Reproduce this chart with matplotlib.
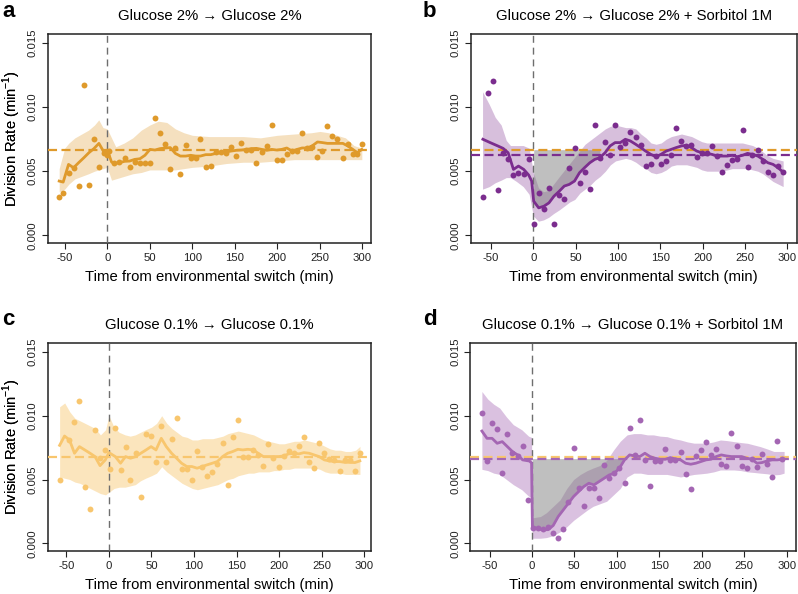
import numpy as np
import matplotlib
matplotlib.use("Agg")
import matplotlib.pyplot as plt

plt.rcParams['font.family'] = ['Liberation Sans', 'DejaVu Sans']
plt.rcParams['lines.scale_dashes'] = False
plt.rcParams['axes.unicode_minus'] = False

# ---- panel a: Glucose 2% -> Glucose 2%  (values x 1e-3) ----
a_pt_t = [-56.5, -51.8, -45.5, -39.6, -33.7, -27.5, -21.6, -15.7, -9.8, -3.5, -0.8, 1.6, 8.2, 14.1, 20.4,
          26.3, 32.2, 38.4, 44.3, 50.2, 56.1, 62.0, 68.2, 74.1, 80.0, 85.9, 92.2, 98.0, 103.9, 109.4,
          115.7, 121.6, 127.8, 133.7, 140.0, 145.5, 151.8, 157.6, 163.5, 169.4, 175.3, 181.6, 187.5,
          193.3, 199.2, 205.1, 211.0, 217.3, 223.1, 229.0, 234.9, 240.8, 247.1, 252.9, 258.8, 264.7,
          270.6, 276.9, 282.7, 288.6, 294.1, 299.2]
a_pt_v = [3.00, 3.31, 4.85, 5.27, 3.86, 11.74, 3.91, 7.49, 5.32, 6.44, 6.24, 6.57, 5.61, 5.71, 6.00,
          5.32, 5.74, 5.66, 5.66, 5.66, 9.13, 8.01, 7.10, 5.14, 6.78, 4.80, 7.02, 6.05, 6.05, 7.49,
          5.35, 5.43, 6.50, 6.50, 6.39, 6.89, 6.18, 7.17, 6.65, 6.65, 5.61, 6.50, 6.99,
          8.58, 5.90, 5.90, 6.31, 6.57, 6.57, 8.01, 6.78, 6.85, 6.13, 6.57, 8.53, 7.75,
          7.49, 6.00, 7.10, 6.31, 6.37, 7.10]
a_ln_t = [-56.5, -51.8, -45.5, -39.6, -33.7, -27.5, -21.6, -15.7, -9.8, -3.5, 0, 5.1, 8.2, 14.1, 20.4,
          26.3, 32.2, 38.4, 44.3, 50.2, 56.1, 62.0, 68.2, 74.1, 80.0, 85.9, 92.2, 98.0, 103.9, 109.4,
          115.7, 121.6, 127.8, 133.7, 140.0, 145.5, 151.8, 157.6, 163.5, 169.4, 175.3, 181.6, 187.5,
          193.3, 199.2, 205.1, 211.0, 217.3, 223.1, 229.0, 234.9, 240.8, 247.1, 252.9, 258.8, 264.7,
          270.6, 276.9, 282.7, 288.6, 294.1, 299.2]
a_ln_v = [4.23, 4.15, 5.53, 5.27, 5.66, 6.05, 6.44, 6.76, 7.17, 6.44, 6.65, 5.71, 5.61, 5.66, 5.77,
          5.79, 5.92, 5.97, 6.24, 6.70, 6.65, 6.76, 6.81, 6.84, 6.39, 6.18, 6.18, 6.24, 6.18, 6.18,
          6.29, 6.29, 6.39, 6.44, 6.50, 6.57, 6.63, 6.65, 6.70, 6.76, 6.78, 6.70, 6.63,
          6.70, 6.65, 6.70, 6.81, 6.57, 6.70, 6.81, 6.81, 6.97, 7.28, 7.23, 7.17, 7.17,
          7.17, 7.17, 6.97, 6.70, 6.44, 6.70]
a_bd_t = [-56.5, -50, -45, -38, -30, -22, -15, -10, -5, 0, 5, 10, 20, 30, 40, 50, 60, 70, 80, 90, 100,
          120, 140, 160, 180, 200, 220, 240, 250, 260, 270, 280, 290, 299.2]
a_bd_lo = [3.4, 3.6, 4.0, 4.4, 4.6, 4.8, 5.0, 5.1, 5.2, 5.3, 4.3, 4.4, 4.6, 4.8, 4.9, 5.1, 5.1, 5.1, 5.1,
           5.2, 5.3, 5.4, 5.6, 5.7, 5.7, 5.8, 5.9, 5.9, 5.9, 5.9, 5.9, 5.9, 5.9, 5.9]
a_bd_hi = [5.2, 6.8, 7.2, 7.6, 7.9, 8.2, 8.6, 9.0, 8.4, 8.3, 7.6, 6.9, 7.2, 7.6, 8.2, 8.6, 8.9, 8.8, 8.3,
           8.0, 7.8, 7.7, 7.7, 7.7, 7.6, 7.8, 7.9, 8.0, 8.1, 8.0, 7.8, 7.6, 7.0, 6.8]

# ---- panel b: Glucose 2% -> Glucose 2% + Sorbitol 1M ----
b_pt_t = [-59.6, -54.1, -47.8, -42.0, -35.7, -29.4, -23.5, -17.6, -11.4, -5.5, 0.4, 6.3, 12.5, 18.4,
          24.3, 30.6, 36.5, 42.4, 48.6, 54.5, 60.4, 66.7, 72.5, 78.4, 84.7, 90.6, 96.5, 102.7, 108.6,
          114.5, 120.8, 126.7, 132.5, 138.8, 144.7, 150.6, 156.9, 162.7, 168.6, 174.9, 180.8, 186.7,
          192.9, 198.8, 204.7, 211.0, 216.9, 222.7, 229.0, 234.9, 240.8, 247.1, 252.9, 258.8, 265.1,
          271.0, 276.9, 283.1, 289.0, 294.9]
b_pt_v = [2.95, 11.06, 12.05, 3.50, 6.44, 5.92, 4.67, 4.85, 4.80, 5.97, 0.86, 3.31, 2.09, 3.70,
          0.89, 3.18, 2.84, 5.27, 6.84, 4.10, 4.90, 3.65, 8.61, 6.00, 7.30, 6.29, 8.58, 6.91, 7.23,
          8.06, 7.70, 7.07, 5.40, 5.58, 6.18, 5.56, 5.79, 6.26, 8.40, 7.36, 6.97, 7.04,
          6.13, 6.39, 6.39, 6.97, 6.18, 4.96, 5.48, 5.90, 5.95, 8.19, 5.35, 6.26, 6.65,
          5.79, 4.96, 4.70, 5.40, 4.96]
b_ln_t = [-59.6, -51.0, -42.0, -35.7, -29.8, -23.5, -17.6, -11.4, -5.5, -2.0, 0.4, 6.3, 12.5, 18.4,
          24.3, 30.6, 36.5, 42.4, 48.6, 54.5, 60.4, 66.7, 72.5, 78.4, 84.7, 90.6, 96.5, 102.7, 108.6,
          114.5, 120.8, 126.7, 132.5, 138.8, 144.7, 150.6, 156.9, 162.7, 168.6, 174.9, 180.8, 186.7,
          192.9, 198.8, 204.7, 211.0, 216.9, 222.7, 229.0, 234.9, 240.8, 247.1, 252.9, 258.8, 265.1,
          271.0, 276.9, 283.1, 289.0, 294.9]
b_ln_v = [7.49, 7.23, 6.97, 6.78, 6.44, 5.14, 5.40, 5.14, 4.70, 4.23, 2.66, 2.14, 2.27, 2.53,
          3.05, 3.44, 3.84, 3.97, 4.23, 4.88, 5.27, 5.66, 5.92, 6.05, 6.44, 6.97, 7.23, 7.23, 7.49,
          7.36, 7.10, 6.84, 6.57, 6.31, 6.13, 6.31, 6.57, 6.70, 6.84, 6.97, 7.02, 6.84,
          6.57, 6.44, 6.39, 6.31, 6.18, 6.18, 6.18, 6.24, 6.13, 6.24, 6.39, 6.31, 6.18,
          5.92, 5.66, 5.53, 5.27, 4.93]
b_bd_t = [-60, -52, -45, -38, -32, -27, -20, -12, -5, 0, 6, 12, 18, 24, 31, 37, 43, 49, 55, 61, 67, 73,
          79, 85, 91, 97, 103, 109, 115, 121, 127, 133, 139, 145, 151, 157, 163, 169, 175, 181, 187, 193,
          199, 205, 211, 217, 223, 229, 235, 241, 247, 253, 259, 265, 271, 277, 283, 289, 295]
b_bd_lo = [3.6, 3.8, 4.1, 4.3, 4.5, 4.5, 4.2, 3.8, 3.2, 1.5, 1.1, 1.2, 1.4, 1.7, 2.0, 2.3, 2.6, 2.8,
           3.3, 3.6, 3.9, 4.3, 4.6, 5.0, 5.5, 5.8, 5.9, 6.0, 5.9, 5.7, 5.4, 5.2, 4.9, 4.8, 4.9, 5.1,
           5.4, 5.5, 5.5, 5.5, 5.4, 5.3, 5.1, 5.0, 5.0, 5.0, 5.0, 5.1, 5.2, 5.2, 5.2, 5.2, 5.1, 5.0,
           4.8, 4.5, 4.2, 4.0, 3.8]
b_bd_hi = [11.2, 10.2, 9.2, 8.6, 7.4, 7.0, 7.0, 7.0, 6.8, 4.9, 3.7, 3.4, 3.5, 4.0, 4.6, 5.1, 5.6, 6.1,
           6.6, 7.1, 7.4, 7.7, 8.0, 8.3, 8.5, 8.6, 8.5, 8.4, 8.4, 8.3, 7.9, 7.6, 7.2, 7.1, 7.2, 7.5,
           7.7, 7.8, 7.9, 7.8, 7.7, 7.5, 7.3, 7.2, 7.2, 7.2, 7.2, 7.2, 7.2, 7.2, 7.2, 7.1, 7.0, 6.8,
           6.5, 6.2, 6.0, 5.9, 5.8]

# ---- panel c: Glucose 0.1% -> Glucose 0.1% ----
c_pt_t = [-58.0, -46.4, -40.5, -34.7, -28.4, -22.2, -16.4, -10.5, -4.3, 1.5, 7.4, 13.6, 19.5, 25.3,
          31.6, 37.4, 43.6, 49.5, 55.3, 61.5, 67.4, 73.6, 79.5, 85.3, 91.5, 97.4, 103.6, 109.5, 115.3,
          121.5, 127.4, 133.6, 139.5, 145.3, 151.5, 157.4, 163.2, 169.5, 175.3, 181.5, 187.4, 193.2,
          199.5, 205.3, 211.1, 217.4, 223.2, 229.1, 235.3, 241.1, 247.0, 253.2, 259.1, 264.9, 271.1,
          277.0, 282.8, 289.1, 294.9]
c_pt_v = [4.95, 8.10, 9.50, 11.15, 4.40, 2.69, 8.88, 6.67, 7.32, 5.81, 9.06, 5.76, 7.53, 4.98,
          7.11, 3.62, 8.60, 8.40, 6.40, 9.20, 6.40, 8.20, 9.80, 5.80, 5.85, 5.00, 7.20, 6.00, 5.30,
          5.60, 6.20, 7.90, 4.60, 8.30, 9.70, 6.80, 6.80, 7.30, 6.90, 6.05, 7.80, 6.70,
          6.00, 6.85, 7.20, 7.10, 7.60, 8.30, 6.40, 5.90, 7.90, 7.10, 6.60, 6.50, 5.65,
          6.50, 6.50, 5.65, 7.10]
c_ln_t = [-58.0, -52.2, -46.4, -40.5, -34.7, -28.4, -22.2, -16.4, -10.5, -4.3, 0, 7.4, 13.6, 19.5,
          25.3, 31.6, 37.4, 43.6, 49.5, 55.3, 61.5, 67.4, 73.6, 79.5, 85.3, 91.5, 97.4, 103.6, 109.5,
          115.3, 121.5, 127.4, 133.6, 139.5, 145.3, 151.5, 157.4, 163.2, 169.5, 175.3, 181.5, 187.4,
          193.2, 199.5, 205.3, 211.1, 217.4, 223.2, 229.1, 235.3, 241.1, 247.0, 253.2, 259.1, 264.9,
          271.1, 277.0, 282.8, 289.1, 294.9]
c_ln_v = [7.68, 8.41, 8.10, 7.06, 7.58, 7.32, 7.06, 6.80, 6.09, 6.54, 7.11, 6.80, 6.28, 6.80,
          6.67, 6.80, 7.06, 7.32, 7.58, 7.32, 8.23, 7.58, 7.06, 6.67, 6.28, 6.02, 6.02, 5.89, 6.02,
          6.15, 6.28, 6.41, 6.80, 7.06, 7.19, 7.37, 7.32, 7.37, 7.32, 7.06, 6.80, 6.80,
          6.80, 6.80, 6.85, 7.01, 7.06, 7.01, 7.11, 7.06, 6.93, 6.80, 6.54, 6.46, 6.41,
          6.41, 6.35, 6.35, 6.33, 6.46]
c_bd_t = [-58, -52, -46, -40, -34, -28, -22, -16, -10, -4, 0, 6, 12, 19, 25, 31, 37, 43, 50, 56, 62, 68,
          74, 80, 86, 92, 98, 104, 110, 116, 122, 128, 134, 140, 146, 152, 158, 164, 170, 176, 182, 188,
          194, 200, 206, 212, 218, 224, 230, 236, 242, 248, 254, 260, 266, 272, 278, 284, 290, 295]
c_bd_lo = [5.2, 5.1, 5.0, 4.8, 4.7, 4.5, 4.3, 4.1, 3.9, 3.8, 4.0, 4.3, 4.4, 4.4, 4.5, 4.6, 4.9, 5.1,
           5.3, 5.5, 6.0, 5.6, 5.3, 5.0, 4.7, 4.5, 4.3, 4.2, 4.3, 4.4, 4.5, 4.6, 4.8, 5.0, 5.1, 5.3,
           5.4, 5.5, 5.5, 5.6, 5.6, 5.6, 5.7, 5.7, 5.8, 5.8, 5.9, 5.9, 5.9, 5.9, 5.9, 5.8, 5.6, 5.5,
           5.5, 5.5, 5.4, 5.4, 5.4, 5.4]
c_bd_hi = [10.7, 11.0, 10.3, 9.8, 9.6, 9.4, 9.2, 9.0, 8.5, 8.9, 10.0, 9.1, 8.7, 8.5, 8.4, 8.5, 8.7,
           8.9, 9.1, 9.4, 10.0, 9.4, 9.0, 8.7, 8.4, 8.3, 8.1, 8.1, 8.2, 8.2, 8.2, 8.3, 8.4, 8.6, 8.7,
           8.8, 8.7, 8.6, 8.5, 8.3, 8.1, 8.0, 7.9, 7.8, 7.8, 7.9, 8.0, 8.0, 8.1, 8.0, 7.9, 7.8, 7.6,
           7.4, 7.3, 7.3, 7.2, 7.2, 7.3, 7.6]

# ---- panel d: Glucose 0.1% -> Glucose 0.1% + Sorbitol 1M ----
d_pt_t = [-59, -53, -47, -41, -35, -29, -23, -17, -11, -5, 1, 7, 13, 19, 25, 31, 37, 43, 49, 55, 61,
          67, 73, 79, 85, 91, 97, 103, 109, 115, 121, 127, 133, 139, 145, 151, 157, 163, 169, 175, 181,
          187, 193, 199, 205, 211, 217, 223, 229, 235, 241, 247, 253, 259, 265, 271, 277, 283, 289, 295]
d_pt_v = [10.23, 6.48, 9.40, 8.93, 5.49, 8.57, 7.11, 6.85, 7.63, 3.41, 1.20, 1.17, 1.12, 1.28, 0.81,
          0.42, 1.12, 3.23, 7.45, 4.30, 2.89, 4.32, 4.30, 3.54, 6.15, 5.10, 5.50, 5.90, 4.71, 9.01,
          6.90, 9.66, 6.54, 4.53, 6.46, 6.48, 7.37, 6.54, 6.54, 7.14, 5.42, 4.27, 6.85, 7.32, 7.97,
          6.93, 7.42, 6.20, 6.09, 8.62, 7.63, 6.07, 5.89, 6.59, 6.02, 7.01, 6.20, 5.23, 8.05, 6.59]
d_ln_t = [-59, -53, -47, -41, -35, -29, -23, -17, -11, -3, -0.5, 0.5, 7, 13, 19, 25, 31, 37, 43, 49,
          55, 61, 67, 73, 79, 85, 91, 97, 103, 109, 115, 121, 127, 133, 139, 145, 151, 157, 163, 169,
          175, 181, 187, 193, 199, 205, 211, 217, 223, 229, 235, 241, 247, 253, 259, 265, 271, 277,
          283, 289, 295]
d_ln_v = [8.80, 8.23, 8.23, 7.84, 7.97, 7.58, 7.19, 6.93, 6.54, 6.45, 6.30, 1.30, 1.12, 1.07, 1.07,
          1.40, 2.11, 2.63, 3.15, 3.67, 4.06, 4.45, 4.71, 4.58, 4.84, 5.10, 5.36, 5.49, 5.89, 6.54,
          6.93, 6.85, 6.80, 7.06, 6.80, 6.67, 6.59, 6.59, 6.72, 6.61, 6.54, 6.28, 6.20, 6.28, 6.41,
          6.54, 6.59, 6.80, 6.93, 6.85, 6.80, 6.80, 6.80, 6.67, 6.59, 6.28, 6.33, 6.46, 6.54, 6.54,
          6.59]
d_bd_t = [-59, -52, -45, -38, -30, -22, -12, -4, -0.5, 0.5, 10, 17, 25, 33, 41, 49, 57, 65, 72, 80, 88,
          96, 104, 112, 120, 128, 136, 143, 151, 159, 167, 175, 183, 191, 199, 206, 214, 222, 230, 238,
          246, 254, 262, 269, 277, 285, 292, 297]
d_bd_lo = [5.8, 5.7, 5.5, 5.4, 5.0, 4.6, 4.2, 3.7, 3.6, 0.4, 0.4, 0.45, 0.6, 0.9, 1.3, 1.8, 2.2, 2.6,
           2.9, 3.1, 3.3, 3.8, 4.3, 5.2, 5.5, 5.5, 5.4, 5.4, 5.4, 5.4, 5.3, 5.2, 5.3, 5.4, 5.45, 5.5,
           5.6, 5.75, 5.75, 5.75, 5.7, 5.6, 5.55, 5.5, 5.45, 5.36, 5.4, 5.5]
d_bd_hi = [11.9, 11.3, 10.9, 10.6, 9.9, 9.3, 8.9, 8.4, 8.3, 2.0, 2.1, 2.4, 2.9, 3.4, 4.3, 5.0, 5.4,
           5.7, 5.9, 6.1, 6.5, 7.3, 8.0, 8.5, 8.6, 8.6, 8.5, 8.5, 8.4, 8.36, 8.2, 8.1, 7.95, 7.85,
           7.85, 7.85, 7.95, 8.1, 8.05, 7.97, 7.9, 7.84, 7.7, 7.58, 7.4, 7.2, 7.2, 7.2]

# steady-state reference rates (x 1e-3)
base_glu2 = 6.68
base_sorb2 = 6.29
base_glu01 = 6.80
base_sorb01 = 6.64

col_a = '#DF9A2B'
col_b = '#7B2D8E'
col_c = '#F8C66E'
col_d = '#A466B3'

titles = ['Glucose 2% \u2192 Glucose 2%',
          'Glucose 2% \u2192 Glucose 2% + Sorbitol 1M',
          'Glucose 0.1% \u2192 Glucose 0.1%',
          'Glucose 0.1% \u2192 Glucose 0.1% + Sorbitol 1M']

W, H = 798, 594
fig = plt.figure(figsize=(W / 100, H / 100), dpi=100)


def box(l, t, r, b):
    return [l / W, 1 - b / H, (r - l) / W, (b - t) / H]


def panel(rect, xlim, pt_t, pt_v, ln_t, ln_v, bd_t, bd_lo, bd_hi, col, band_alpha,
          bases, title, letter, letter_xy, grey=None):
    ax = fig.add_axes(box(*rect))
    k = 1e-3
    ax.fill_between(bd_t, np.array(bd_lo) * k, np.array(bd_hi) * k, color=col,
                    alpha=band_alpha, lw=0, zorder=1)
    if grey is not None:
        t = np.array(ln_t)
        v = np.array(ln_v) * k
        ax.fill_between(t, v, grey[0] * k, where=(t >= 0) & (t <= grey[1]),
                        color='#808080', alpha=0.5, lw=0, zorder=2)
    ax.axvline(0, color='#6e6e6e', lw=1.0, ls=(0, (5, 3.5)), zorder=3)
    for val, c in bases:
        ax.axhline(val * k, color=c, lw=1.6, ls=(0, (6.5, 3.2)), zorder=3)
    ax.plot(ln_t, np.array(ln_v) * k, color=col, lw=2.0, zorder=4)
    ax.scatter(pt_t, np.array(pt_v) * k, s=18, color=col, lw=0, zorder=5)

    ax.set_xlim(*xlim)
    ax.set_ylim(-0.0006, 0.0157)
    ax.set_xticks([-50, 0, 50, 100, 150, 200, 250, 300])
    ax.set_xticklabels(['-50', '0', '50', '100', '150', '200', '250', '300'], fontsize=8.2)
    ax.set_yticks([0, 0.005, 0.010, 0.015])
    ax.set_yticklabels(['0.000', '0.005', '0.010', '0.015'], fontsize=8.2,
                       rotation=90, va='center')
    ax.tick_params(direction='out', length=4, width=0.8, colors='#222222', pad=3)
    for s in ax.spines.values():
        s.set_linewidth(1.1)
        s.set_color('#222222')
    ax.set_xlabel('Time from environmental switch (min)', fontsize=10.7, labelpad=5)
    ax.set_ylabel('Division Rate (min$^{\\mathregular{-1}}$)', fontsize=10.5)
    ax.yaxis.set_label_coords((23 - rect[0]) / (rect[2] - rect[0]), 0.5)
    ax.set_title(title, fontsize=10.7, pad=10)
    fig.text(letter_xy[0] / W, 1 - letter_xy[1] / H, letter, fontsize=16,
             fontweight='bold', va='baseline', ha='left')
    return ax


panel((47.7, 34, 371, 243), (-70, 310), a_pt_t, a_pt_v, a_ln_t, a_ln_v, a_bd_t, a_bd_lo, a_bd_hi,
      col_a, 0.3, [(base_glu2, col_a)], titles[0], 'a', (2, 17))
panel((470.7, 34, 796.7, 243), (-74, 311), b_pt_t, b_pt_v, b_ln_t, b_ln_v, b_bd_t, b_bd_lo, b_bd_hi,
      col_b, 0.3, [(base_glu2, col_a), (base_sorb2, col_b)], titles[1], 'b', (423, 17),
      grey=(base_glu2, 78.4))
panel((47.7, 343, 371, 551), (-72, 308), c_pt_t, c_pt_v, c_ln_t, c_ln_v, c_bd_t, c_bd_lo, c_bd_hi,
      col_c, 0.45, [(base_glu01, col_c)], titles[2], 'c', (2, 325))
panel((470, 343, 796, 551), (-73, 311), d_pt_t, d_pt_v, d_ln_t, d_ln_v, d_bd_t, d_bd_lo, d_bd_hi,
      col_d, 0.4, [(base_glu01, col_c), (base_sorb01, col_d)], titles[3], 'd', (423, 325),
      grey=(base_sorb01, 112))

fig.savefig('out.png', dpi=100)
